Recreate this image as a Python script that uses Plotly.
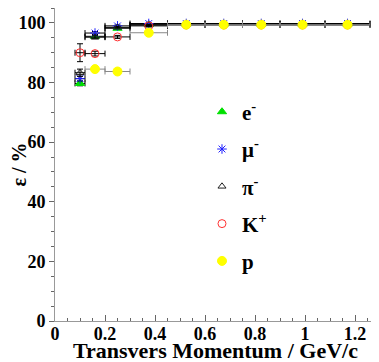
import plotly.graph_objects as go

# ---- data ----
pt = [0.1, 0.16, 0.25, 0.375, 0.525, 0.675, 0.825, 0.99, 1.17]
pt_err = [0.02, 0.04, 0.05, 0.075, 0.075, 0.075, 0.075, 0.09, 0.09]

eff_e = [79.7, 95.5, 98.2, 99.4, 99.6, 99.6, 99.6, 99.6, 99.6]
eff_mu = [81.3, 96.6, 99.0, 99.8, 99.8, 99.8, 99.8, 99.8, 99.8]
eff_pi = [83.3, 95.2, 98.5, 99.3, 99.5, 99.5, 99.5, 99.5, 99.5]
eff_k = [90.0, 89.7, 95.3, 99.0, 99.3, 99.3, 99.3, 99.3, 99.3]
eff_p = [None, 84.5, 83.7, 96.7, 99.4, 99.4, 99.4, 99.4, 99.4]

err_e = [0.8, 0.5, 0.3, 0.2, 0.1, 0.1, 0.1, 0.1, 0.1]
err_mu = [0.8, 0.5, 0.3, 0.2, 0.1, 0.1, 0.1, 0.1, 0.1]
err_pi = [1.2, 0.5, 0.3, 0.2, 0.1, 0.1, 0.1, 0.1, 0.1]
err_k = [3.0, 0.8, 0.5, 0.3, 0.2, 0.2, 0.2, 0.2, 0.2]
err_p = [0, 0.5, 0.4, 0.3, 0.2, 0.2, 0.2, 0.2, 0.2]

x_title = "Transvers Momentum / GeV/c"
y_title = "\u03b5 / %"

series = [
    ("e<sup>-</sup>", eff_e, err_e, "triangle-up", "#00e000", 8, "black"),
    ("\u03bc<sup>-</sup>", eff_mu, err_mu, "asterisk-open", "#2020ff", 8, "black"),
    ("\u03c0<sup>-</sup>", eff_pi, err_pi, "triangle-up-open", "#202020", 7, "black"),
    ("K<sup>+</sup>", eff_k, err_k, "circle-open", "#ff3030", 8, "black"),
    ("p", eff_p, err_p, "circle", "#ffff00", 9, "#888888"),
]

fig = go.Figure()
for i, (name, y, ey, sym, col, sz, ecol) in enumerate(series):
    fig.add_trace(go.Scatter(
        x=pt, y=y, mode="markers", name=name, legendgroup=str(i),
        marker=dict(symbol=sym, color=col, size=sz, line=dict(color=col, width=1)),
        error_x=dict(type="data", array=pt_err, color=ecol, thickness=1, width=3),
        error_y=dict(type="data", array=ey, color=ecol, thickness=1, width=3),
    ))

font_fam = "Liberation Serif"
fig.update_layout(
    width=371, height=354,
    margin=dict(l=47, r=2, t=0, b=41),
    paper_bgcolor="white", plot_bgcolor="white",
    showlegend=True,
    legend=dict(
        x=0.4565, y=0.733, xanchor="left", yanchor="top",
        font=dict(family=font_fam, size=21, color="black", weight="bold"),
        traceorder="grouped", tracegroupgap=7, bgcolor="rgba(0,0,0,0)",
        itemsizing="trace",
    ),
    xaxis=dict(
        range=[0, 1.288], showgrid=False, zeroline=False,
        showline=True, linecolor="#999999", mirror=True, linewidth=1,
        ticks="inside", ticklen=6, tickcolor="#666666", dtick=0.2, tick0=0,
        minor=dict(ticks="inside", ticklen=3, dtick=0.05, tickcolor="#666666"),
        tickfont=dict(family=font_fam, size=18, color="black", weight="bold"),
        ticklabelstandoff=-4,
        automargin=False,
    ),
    yaxis=dict(
        range=[0, 105], showgrid=False, zeroline=False,
        showline=True, linecolor="#999999", mirror=True, linewidth=1,
        ticks="outside", ticklen=5, tickcolor="#666666", dtick=20, tick0=0,
        minor=dict(ticks="outside", ticklen=3, dtick=5, tickcolor="#666666"),
        tickfont=dict(family=font_fam, size=18, color="black", weight="bold"),
        title=dict(text=y_title, standoff=6,
                   font=dict(family=font_fam, size=20, color="black", weight="bold")),
        automargin=False,
    ),
    annotations=[dict(
        text=x_title, xref="paper", yref="paper", x=0.497, y=-0.0927,
        xanchor="center", yanchor="middle", showarrow=False,
        font=dict(family=font_fam, size=22, color="black", weight="bold"),
    )],
)

fig.write_html("out.html")
